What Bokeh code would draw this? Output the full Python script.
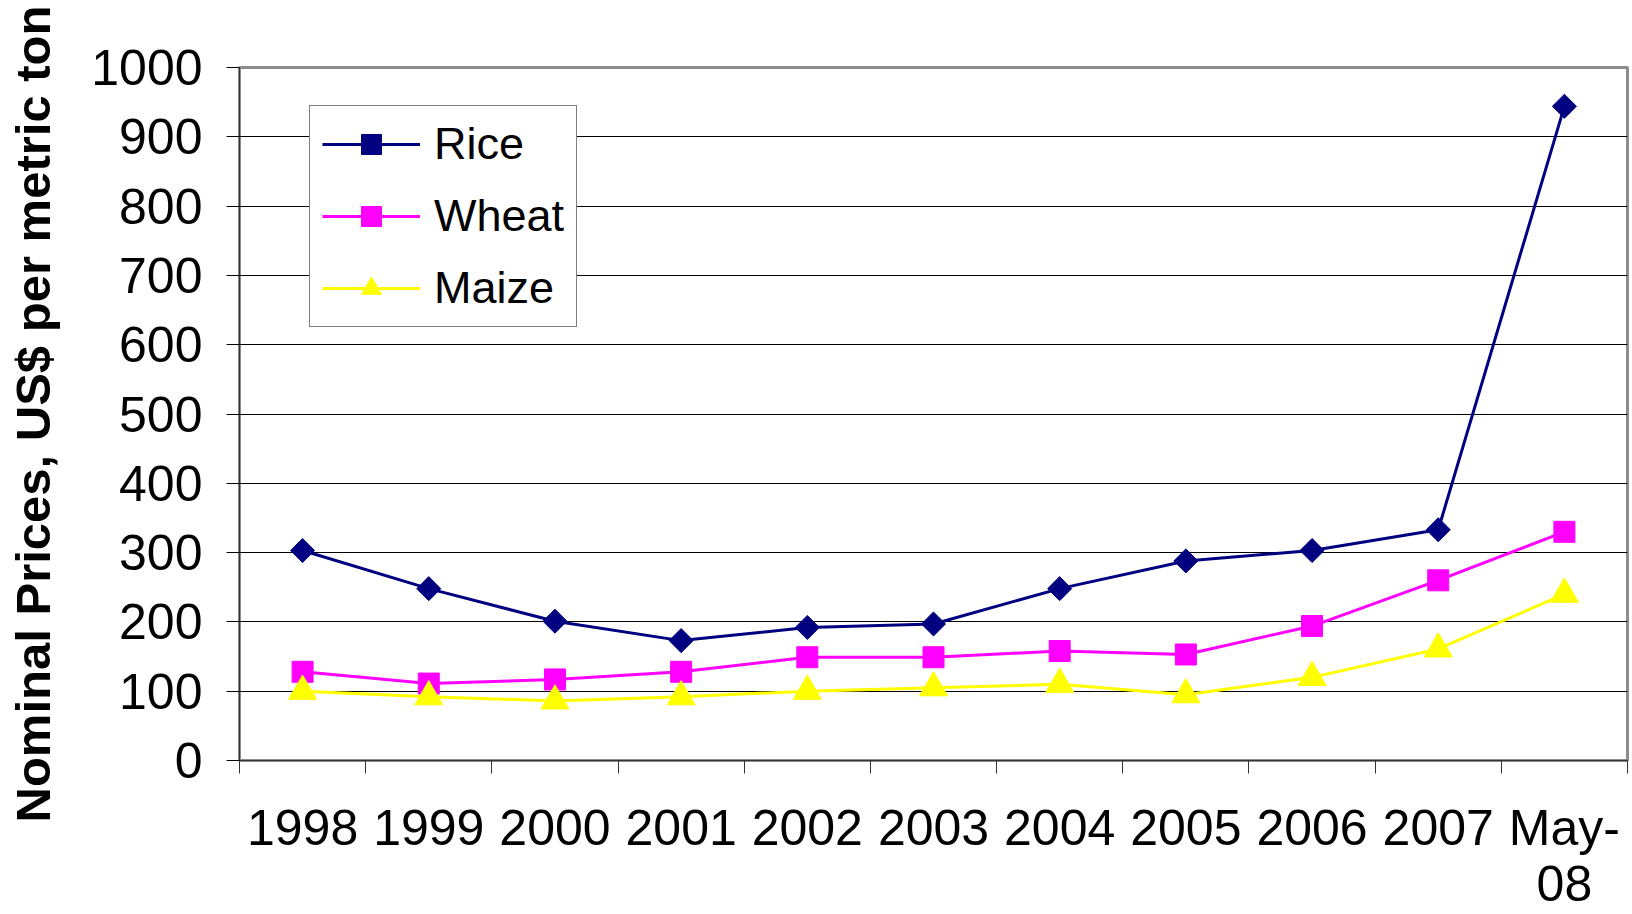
import math
from bokeh.plotting import figure
from bokeh.models import Range1d, FixedTicker, Legend, LegendItem
from bokeh.embed import file_html
from bokeh.resources import INLINE

categories = ["1998", "1999", "2000", "2001", "2002", "2003", "2004", "2005", "2006", "2007", "May-\n08"]
rice = [303, 248, 201, 173, 192, 197, 248, 288, 303, 333, 944]
wheat = [128, 111, 117, 128, 149, 149, 158, 153, 194, 260, 330]
maize = [100, 92, 86, 92, 100, 105, 110, 95, 120, 161, 240]
y_ticks = list(range(0, 1001, 100))

FONT = "Liberation Sans"
xs = [i + 0.5 for i in range(len(categories))]

p = figure(width=1632, height=914,
           x_range=Range1d(0, len(categories)), y_range=Range1d(0, 1000),
           output_backend="svg", toolbar_location=None,
           min_border_left=239, min_border_right=5,
           min_border_top=67, min_border_bottom=154)
p.background_fill_color = "white"
p.border_fill_color = "white"
p.outline_line_color = "#8c8c8c"
p.outline_line_width = 3

# x axis
p.xaxis.ticker = FixedTicker(ticks=xs, minor_ticks=list(range(len(categories) + 1)))
p.xaxis.major_label_overrides = {x: c for x, c in zip(xs, categories)}
p.xaxis.major_tick_line_color = None
p.xaxis.major_tick_out = 13
p.xaxis.major_tick_in = 0
p.xaxis.minor_tick_out = 13
p.xaxis.minor_tick_in = 0
p.xaxis.minor_tick_line_color = "#333333"
p.xaxis.axis_line_color = "#333333"
p.xaxis.major_label_standoff = 26
p.xaxis.major_label_text_font = FONT
p.xaxis.major_label_text_font_size = "50px"
p.xaxis.major_label_text_line_height = 1.0
p.xaxis.major_label_text_color = "black"
p.xgrid.grid_line_color = None

# y axis
p.yaxis.ticker = FixedTicker(ticks=y_ticks, minor_ticks=[])
p.yaxis.major_tick_out = 13
p.yaxis.major_tick_in = 0
p.yaxis.major_tick_line_color = "black"
p.yaxis.axis_line_color = "#333333"
p.yaxis.major_label_standoff = 24
p.yaxis.major_label_text_font = FONT
p.yaxis.major_label_text_font_size = "50px"
p.yaxis.major_label_text_color = "black"
p.yaxis.axis_label = "Nominal Prices, US$ per metric ton"
p.yaxis.axis_label_text_font = FONT
p.yaxis.axis_label_text_font_style = "bold"
p.yaxis.axis_label_text_font_size = "49px"
p.yaxis.axis_label_text_color = "black"
p.yaxis.axis_label_standoff = 28
p.ygrid.grid_line_color = "black"
p.ygrid.grid_line_width = 1

# series
r1 = p.line(xs, rice, line_color="#000080", line_width=3)
m1 = p.scatter(xs, rice, marker="square", angle=math.pi / 4, size=17,
               fill_color="#000080", line_color="#000080")
r2 = p.line(xs, wheat, line_color="#FF00FF", line_width=3)
m2 = p.scatter(xs, wheat, marker="square", size=21,
               fill_color="#FF00FF", line_color="#FF00FF")
r3 = p.line(xs, maize, line_color="#FFFF00", line_width=3)
m3 = p.scatter(xs, maize, marker="triangle", size=28,
               fill_color="#FFFF00", line_color="#FFFF00")

legend = Legend(items=[
    LegendItem(label="Rice", renderers=[r1, m1]),
    LegendItem(label="Wheat", renderers=[r2, m2]),
    LegendItem(label="Maize", renderers=[r3, m3]),
], location=(70, 433))
legend.label_text_font = FONT
legend.label_text_font_size = "45px"
legend.label_text_color = "black"
legend.glyph_width = 98
legend.glyph_height = 50
legend.label_height = 50
legend.label_standoff = 14
legend.spacing = 20
legend.padding = 12
legend.margin = 0
legend.border_line_color = "black"
legend.border_line_width = 1
legend.background_fill_color = "white"
legend.background_fill_alpha = 1.0
p.add_layout(legend, "center")

open("out.html", "w").write(file_html(p, INLINE))
